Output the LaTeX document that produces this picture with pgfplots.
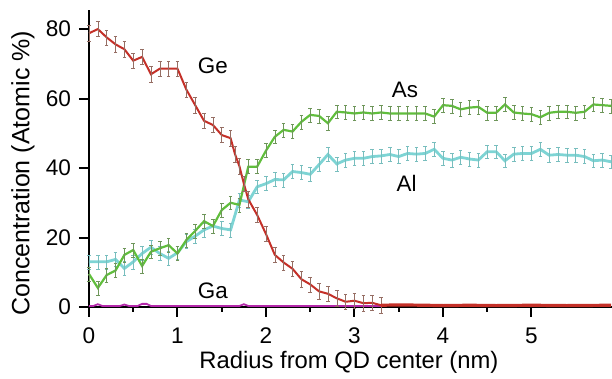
\documentclass[border=0pt]{standalone}
\usepackage{pgfplots}
\pgfplotsset{compat=1.18}
\usepackage{fontspec}
\setmainfont{Liberation Sans}
\definecolor{geC}{RGB}{196,48,40}
\definecolor{asC}{RGB}{96,190,60}
\definecolor{alC}{RGB}{125,212,212}
\definecolor{gaC}{RGB}{180,40,170}
\definecolor{geE}{RGB}{150,110,100}
\definecolor{asE}{RGB}{110,150,90}
\definecolor{alE}{RGB}{120,190,190}
\begin{document}
\begin{tikzpicture}
\useasboundingbox (-44.5pt,-36pt) rectangle (261.5pt,153.5pt);
\begin{axis}[
  scale only axis, width=261.5pt, height=148.5pt,
  xmin=0, xmax=5.91, ymin=0, ymax=85.5,
  axis x line=bottom, axis y line=left,
  axis line style={-, line width=1.2pt},
  tick align=outside,
  major tick length=5pt, minor tick length=2.5pt,
  every tick/.style={black, line width=1.0pt},
  xtick={0,1,2,3,4,5}, minor x tick num=1,
  ytick={0,20,40,60,80},
  /pgf/number format/assume math mode=true,
  tick label style={font=\fontsize{11.3}{13}\selectfont},
  xticklabel style={yshift=-2pt},
  yticklabel style={xshift=-0.5pt},
  xlabel={Radius from QD center (nm)},
  ylabel={Concentration (Atomic \%)},
  every axis x label/.style={at={(axis description cs:0.497,0)}, yshift=-27.5pt, anchor=center, font=\fontsize{11.9}{14}\selectfont},
  every axis y label/.style={at={(axis description cs:0,0.45)}, xshift=-33pt, rotate=90, anchor=center, font=\fontsize{12.5}{14}\selectfont},
  clip=false,
]
% Al
\addplot[alC, line width=1.4pt, error bars/.cd, y dir=both, y fixed=2,
  error bar style={line width=0.25pt, color=alE}, error mark options={rotate=90, mark size=0.9pt, line width=0.25pt, color=alE}]
coordinates {
(0,13.0)(0.1,13.0)(0.2,13.0)(0.3,13.7)(0.4,11.1)(0.5,13.0)(0.6,15.4)(0.7,17.2)(0.8,15.4)(0.9,14.0)
(1.0,15.6)(1.1,18.8)(1.2,20.4)(1.3,22.2)(1.4,23.3)(1.5,22.6)(1.6,22.2)(1.7,30.8)(1.8,30.3)(1.9,34.6)
(2.0,35.5)(2.1,36.7)(2.2,36.6)(2.3,39.0)(2.4,38.7)(2.5,38.2)(2.6,41.0)(2.7,43.9)(2.8,41.2)(2.9,42.3)
(3.0,42.8)(3.1,42.8)(3.2,43.3)(3.3,43.5)(3.4,43.9)(3.5,43.3)(3.6,44.2)(3.7,44.0)(3.8,44.2)(3.9,45.4)
(4.0,42.8)(4.1,42.3)(4.2,43.1)(4.3,42.6)(4.4,42.3)(4.5,44.7)(4.6,44.7)(4.7,42.1)(4.8,44.0)(4.9,44.2)
(5.0,44.2)(5.1,45.4)(5.2,43.7)(5.3,43.9)(5.4,43.7)(5.5,43.7)(5.6,43.3)(5.7,42.1)(5.8,42.3)(5.9,41.8)
};
% As
\addplot[asC, line width=1.1pt, error bars/.cd, y dir=both, y fixed=2,
  error bar style={line width=0.25pt, color=asE}, error mark options={rotate=90, mark size=0.9pt, line width=0.25pt, color=asE}]
coordinates {
(0,9.5)(0.1,5.5)(0.2,9.2)(0.3,10.5)(0.4,15.0)(0.5,16.4)(0.6,11.8)(0.7,15.9)(0.8,16.9)(0.9,17.8)
(1.0,15.4)(1.1,19.3)(1.2,21.9)(1.3,24.7)(1.4,23.3)(1.5,27.9)(1.6,30.0)(1.7,29.4)(1.8,40.4)(1.9,40.4)
(2.0,45.0)(2.1,49.0)(2.2,51.0)(2.3,50.5)(2.4,53.3)(2.5,55.3)(2.6,55.0)(2.7,52.9)(2.8,56.2)(2.9,56.0)
(3.0,55.7)(3.1,56.0)(3.2,55.7)(3.3,56.0)(3.4,55.7)(3.5,55.7)(3.6,55.7)(3.7,55.7)(3.8,55.7)(3.9,54.8)
(4.0,58.1)(4.1,57.9)(4.2,56.9)(4.3,57.4)(4.4,57.6)(4.5,55.9)(4.6,55.9)(4.7,58.3)(4.8,56.0)(4.9,55.7)
(5.0,55.5)(5.1,54.6)(5.2,55.9)(5.3,56.2)(5.4,56.2)(5.5,55.9)(5.6,56.2)(5.7,58.3)(5.8,58.1)(5.9,57.9)
};
% Ga
\addplot[gaC, line width=0.9pt] coordinates {
(0,0.3)(0.05,0.3)(0.1,0.8)(0.15,0.3)(0.35,0.3)(0.4,0.7)(0.45,0.3)(0.55,0.3)(0.6,0.9)(0.65,0.9)(0.7,0.3)
(1.7,0.3)(1.75,0.8)(1.8,0.3)(3.3,0.3)
};
% Ge
\addplot[geC, line width=1.0pt, error bars/.cd, y dir=both, y fixed=2.2,
  error bar style={line width=0.25pt, color=geE}, error mark options={rotate=90, mark size=0.9pt, line width=0.25pt, color=geE}]
coordinates {
(0,78.8)(0.1,80.0)(0.2,77.6)(0.3,75.6)(0.4,74.2)(0.5,70.9)(0.6,72.0)(0.7,67.0)(0.8,68.6)(0.9,68.6)
(1.0,68.6)(1.1,62.6)(1.2,58.1)(1.3,53.6)(1.4,52.4)(1.5,49.5)(1.6,48.6)(1.65,44.0)(1.7,40.5)(1.75,35.5)
(1.8,31.0)(1.9,26.5)(2.0,21.0)(2.1,15.0)(2.2,12.8)(2.3,11.0)(2.4,8.0)(2.5,6.5)(2.6,4.5)(2.7,3.8)
(2.8,2.5)(2.9,1.5)(3.0,1.8)(3.1,1.1)(3.2,1.2)(3.3,0.5)
};
\addplot[geC, line width=1.6pt] coordinates {
(3.3,0.5)(3.5,0.6)(3.8,0.5)(4.0,0.4)(4.3,0.5)(4.6,0.4)(5.0,0.5)(5.4,0.4)(5.9,0.5)
};
\node[font=\fontsize{11.2}{13}\selectfont] at (axis cs:1.40,69.4) {Ge};
\node[font=\fontsize{11.2}{13}\selectfont] at (axis cs:3.57,62.4) {As};
\node[font=\fontsize{11.2}{13}\selectfont] at (axis cs:3.59,35.7) {Al};
\node[font=\fontsize{11.2}{13}\selectfont] at (axis cs:1.40,4.6) {Ga};
\end{axis}
\end{tikzpicture}
\end{document}
